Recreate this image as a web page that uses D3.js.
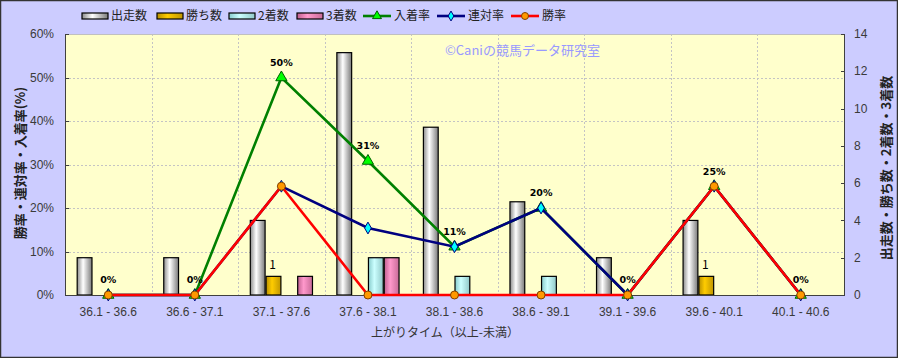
<!DOCTYPE html>
<html><head><meta charset="utf-8">
<script src="https://cdn.jsdelivr.net/npm/d3@7/dist/d3.min.js"></script>
<style>
html,body{margin:0;padding:0;background:#fff;}
svg{display:block;font-family:"Noto Sans CJK JP","Noto Sans",sans-serif;}
</style></head>
<body><svg id="c" width="898" height="358"></svg>
<script>
const categories = ["36.1 - 36.6","36.6 - 37.1","37.1 - 37.6","37.6 - 38.1","38.1 - 38.6","38.6 - 39.1","39.1 - 39.6","39.6 - 40.1","40.1 - 40.6"];
const runs    = [2,2,4,13,9,5,2,4,0];   // 出走数
const wins    = [0,0,1,0,0,0,0,1,0];    // 勝ち数
const seconds = [0,0,0,2,1,1,0,0,0];    // 2着数
const thirds  = [0,0,1,2,0,0,0,0,0];    // 3着数
const placeRate = [0,0,50,30.8,11.1,20,0,25,0];   // 入着率
const quinRate  = [0,0,25,15.4,11.1,20,0,25,0];   // 連対率
const winRate   = [0,0,25,0,0,0,0,25,0];          // 勝率
const placeLabels = ["0%","0%","50%","31%","11%","20%","0%","25%","0%"];
const leftTicks = [0,10,20,30,40,50,60];
const rightTicks = [0,2,4,6,8,10,12,14];

const svg = d3.select("#c");
const W = 898, H = 358;
const m = {l:65, r:844, t:34, b:295};

svg.append("rect").attr("x",0.5).attr("y",0.5).attr("width",W-1).attr("height",H-1)
  .attr("fill","#CCCCFF").attr("stroke","#333").attr("stroke-width",1.5);

const defs = svg.append("defs");
function grad(id, edgeL, mid, edgeR){
  const g = defs.append("linearGradient").attr("id",id).attr("x1","0%").attr("x2","100%").attr("y1","0").attr("y2","0");
  g.append("stop").attr("offset","0%").attr("stop-color",edgeL);
  g.append("stop").attr("offset","40%").attr("stop-color",mid);
  g.append("stop").attr("offset","100%").attr("stop-color",edgeR);
}
grad("gRun","#8c8c8c","#ffffff","#7a7a7a");
grad("gWin","#b89000","#ffcc00","#c09600");
grad("gSec","#88cccc","#ccffff","#90c8c8");
grad("gThr","#c06090","#ff99cc","#c86a98");

const x = d3.scaleBand().domain(categories).range([m.l,m.r]).padding(0);
const bw = x.bandwidth();
const groupW = bw*0.73;
const x1 = d3.scaleBand().domain([0,1,2,3]).range([0,groupW]).padding(0);
const yL = d3.scaleLinear().domain([0,60]).range([m.b,m.t]);
const yR = d3.scaleLinear().domain([0,14]).range([m.b,m.t]);

// plot area
svg.append("rect").attr("x",m.l).attr("y",m.t).attr("width",m.r-m.l).attr("height",m.b-m.t)
  .attr("fill","#FFFFCC");

// gridlines
svg.append("g").selectAll("line").data(leftTicks.slice(1)).join("line")
  .attr("x1",m.l).attr("x2",m.r).attr("y1",d=>Math.round(yL(d))+0.5).attr("y2",d=>Math.round(yL(d))+0.5)
  .attr("stroke","#c4c4c4").attr("stroke-dasharray","2,2");
svg.append("g").selectAll("line").data(categories.slice(1)).join("line")
  .attr("x1",d=>Math.round(x(d))+0.5).attr("x2",d=>Math.round(x(d))+0.5).attr("y1",m.t).attr("y2",m.b)
  .attr("stroke","#c4c4c4").attr("stroke-dasharray","2,2");
svg.append("line").attr("x1",m.l).attr("x2",m.r).attr("y1",m.t+0.5).attr("y2",m.t+0.5).attr("stroke","#c0c0c0");

// watermark
svg.append("text").attr("x",445).attr("y",55).attr("font-size",13).attr("fill","#9999FF")
  .text("©Caniの競馬データ研究室");

// bars
const barSeries = [
  {name:"出走数", vals:runs, fill:"url(#gRun)"},
  {name:"勝ち数", vals:wins, fill:"url(#gWin)"},
  {name:"2着数", vals:seconds, fill:"url(#gSec)"},
  {name:"3着数", vals:thirds, fill:"url(#gThr)"}
];
barSeries.forEach((s,si)=>{
  svg.append("g").selectAll("rect").data(categories.map((c,i)=>({c,v:s.vals[i]})).filter(d=>d.v>0)).join("rect")
    .attr("x",d=>x(d.c)+(bw-groupW)/2+x1(si)+0.5)
    .attr("y",d=>yR(d.v))
    .attr("width",x1.bandwidth()-1)
    .attr("height",d=>m.b-yR(d.v))
    .attr("fill",s.fill).attr("stroke","#000").attr("stroke-width",1.2);
});
// bar labels for wins
svg.append("g").selectAll("text").data(categories.map((c,i)=>({c,v:wins[i]})).filter(d=>d.v>0)).join("text")
  .attr("x",d=>x(d.c)+(bw-groupW)/2+x1(1)+x1.bandwidth()/2 - 1)
  .attr("y",d=>yR(d.v)-7).attr("text-anchor","middle").attr("font-size",12).attr("fill","#000")
  .text(d=>d.v);

// axes lines
svg.append("line").attr("x1",m.l+0.5).attr("x2",m.l+0.5).attr("y1",m.t).attr("y2",m.b).attr("stroke","#404040");
svg.append("line").attr("x1",m.r+0.5).attr("x2",m.r+0.5).attr("y1",m.t).attr("y2",m.b).attr("stroke","#404040");
svg.append("line").attr("x1",m.l).attr("x2",m.r+1).attr("y1",m.b+0.5).attr("y2",m.b+0.5).attr("stroke","#404040");

// ticks & labels left
const tl = svg.append("g");
tl.selectAll("line").data(leftTicks).join("line")
  .attr("x1",m.l).attr("x2",m.l+4).attr("y1",d=>Math.round(yL(d))+0.5).attr("y2",d=>Math.round(yL(d))+0.5).attr("stroke","#404040");
tl.selectAll("text").data(leftTicks).join("text")
  .attr("x",54).attr("y",d=>yL(d)).attr("dy","0.35em").attr("text-anchor","end")
  .attr("font-size",12).attr("fill","#3a3a3a").attr("font-family","Liberation Sans, Arial, sans-serif")
  .text(d=>d+"%");
const tr = svg.append("g");
tr.selectAll("line").data(rightTicks).join("line")
  .attr("x1",m.r-3).attr("x2",m.r+1).attr("y1",d=>Math.round(yR(d))+0.5).attr("y2",d=>Math.round(yR(d))+0.5).attr("stroke","#404040");
tr.selectAll("text").data(rightTicks).join("text")
  .attr("x",854).attr("y",d=>yR(d)).attr("dy","0.35em").attr("text-anchor","start")
  .attr("font-size",12).attr("fill","#3a3a3a").attr("font-family","Liberation Sans, Arial, sans-serif")
  .text(d=>d);
// category labels
svg.append("g").selectAll("text").data(categories).join("text")
  .attr("x",d=>x(d)+bw/2).attr("y",312).attr("dy","0.35em").attr("text-anchor","middle")
  .attr("font-size",12).attr("fill","#3a3a3a").attr("font-family","Liberation Sans, Arial, sans-serif")
  .text(d=>d);

// axis titles
svg.append("text").attr("x",445).attr("y",333).attr("dy","0.35em").attr("text-anchor","middle")
  .attr("font-size",12).attr("fill","#333").text("上がりタイム（以上-未満）");
svg.append("text").attr("transform","translate(20,163) rotate(-90)").attr("dy","0.35em").attr("text-anchor","middle")
  .attr("font-size",13).attr("font-weight","bold").attr("fill","#222").text("勝率・連対率・入着率(%)");
svg.append("text").attr("transform","translate(886,168) rotate(-90)").attr("dy","0.35em").attr("text-anchor","middle")
  .attr("font-size",13).attr("font-weight","bold").attr("fill","#222").text("出走数・勝ち数・2着数・3着数");

// lines
const cx = c => x(c)+bw/2;
function drawLine(vals, color){
  svg.append("path").datum(vals)
    .attr("d", d3.line().x((d,i)=>cx(categories[i])).y(d=>yL(d)))
    .attr("fill","none").attr("stroke",color).attr("stroke-width",2.6);
}
const tri = d3.symbol().type(d3.symbolTriangle).size(55);
const dia = d3.symbol().type(d3.symbolDiamond).size(40);
drawLine(placeRate,"#008000");
svg.append("g").selectAll("path").data(placeRate).join("path")
  .attr("transform",(d,i)=>`translate(${cx(categories[i])},${yL(d)})`)
  .attr("d",tri).attr("fill","#00ff00").attr("stroke","#006000").attr("stroke-width",1);
drawLine(quinRate,"#000080");
svg.append("g").selectAll("path").data(quinRate).join("path")
  .attr("transform",(d,i)=>`translate(${cx(categories[i])},${yL(d)})`)
  .attr("d",dia).attr("fill","#00ffff").attr("stroke","#000080").attr("stroke-width",1);
drawLine(winRate,"#ff0000");
svg.append("g").selectAll("circle").data(winRate).join("circle")
  .attr("cx",(d,i)=>cx(categories[i])).attr("cy",d=>yL(d)).attr("r",4)
  .attr("fill","#ff9900").attr("stroke","#804000").attr("stroke-width",1);

// data labels (入着率)
svg.append("g").selectAll("text").data(placeRate).join("text")
  .attr("x",(d,i)=>cx(categories[i])).attr("y",d=>yL(d)-15).attr("dy","0.35em").attr("text-anchor","middle")
  .attr("font-size",9.5).attr("font-weight","bold").attr("fill","#000")
  .attr("font-family","DejaVu Sans, sans-serif")
  .text((d,i)=>placeLabels[i]);

// legend
const lg = svg.append("g");
const legendBars = [
  {name:"出走数", fill:"url(#gRun)", x:82},
  {name:"勝ち数", fill:"url(#gWin)", x:157},
  {name:"2着数", fill:"url(#gSec)", x:229},
  {name:"3着数", fill:"url(#gThr)", x:297}
];
legendBars.forEach(b=>{
  lg.append("rect").attr("x",b.x).attr("y",13).attr("width",26).attr("height",6)
    .attr("fill",b.fill).attr("stroke","#000").attr("stroke-width",1.2);
  lg.append("text").attr("x",b.x+29).attr("y",16).attr("dy","0.35em").attr("font-size",12).attr("fill","#222").text(b.name);
});
const legendLines = [
  {name:"入着率", color:"#008000", x:363, m:"tri"},
  {name:"連対率", color:"#000080", x:437, m:"dia"},
  {name:"勝率", color:"#ff0000", x:511, m:"cir"}
];
legendLines.forEach(l=>{
  lg.append("line").attr("x1",l.x).attr("x2",l.x+28).attr("y1",16).attr("y2",16).attr("stroke",l.color).attr("stroke-width",2.6);
  const mx = l.x+14;
  if(l.m==="tri") lg.append("path").attr("transform",`translate(${mx},16)`).attr("d",d3.symbol().type(d3.symbolTriangle).size(35)).attr("fill","#00ff00").attr("stroke","#006000");
  if(l.m==="dia") lg.append("path").attr("transform",`translate(${mx},16)`).attr("d",d3.symbol().type(d3.symbolDiamond).size(28)).attr("fill","#00ffff").attr("stroke","#000080");
  if(l.m==="cir") lg.append("circle").attr("cx",mx).attr("cy",16).attr("r",3.5).attr("fill","#ff9900").attr("stroke","#804000");
  lg.append("text").attr("x",l.x+31).attr("y",16).attr("dy","0.35em").attr("font-size",12).attr("fill","#222").text(l.name);
});
</script></body></html>
